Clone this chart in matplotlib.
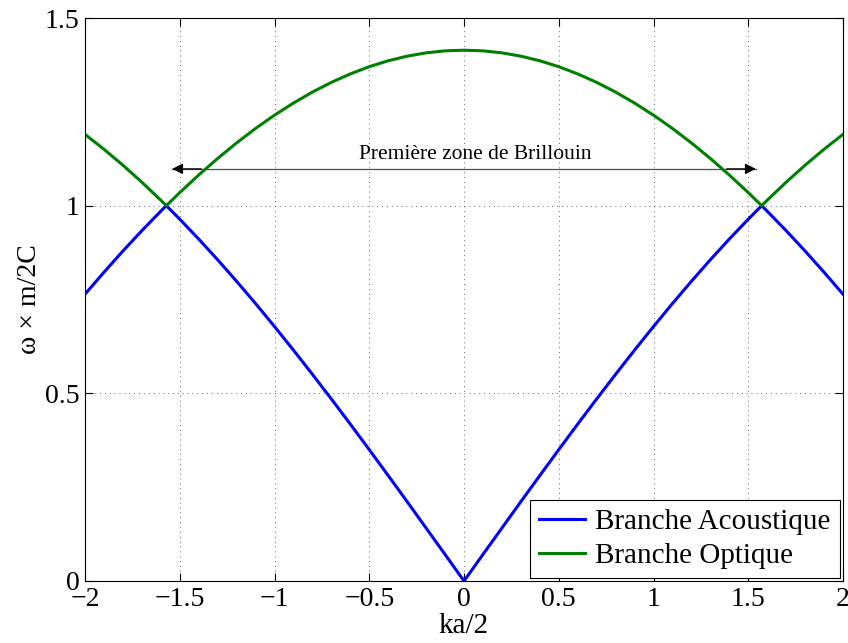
import matplotlib.pyplot as plt

plt.rcParams['font.family'] = ['Liberation Serif', 'DejaVu Serif']

# half-zone dispersion samples for the diatomic chain, ka/2 >= 0
k_half = [0.0, 0.1, 0.2, 0.3, 0.4, 0.5, 0.6, 0.7, 0.8, 0.9, 1.0, 1.1, 1.2,
          1.3, 1.4, 1.5, 1.5708, 1.6, 1.7, 1.8, 1.9, 2.0]
acoustic_half = [0.0, 0.0707, 0.141, 0.2114, 0.2809, 0.3499, 0.418, 0.485,
                 0.5507, 0.6151, 0.678, 0.7392, 0.7985, 0.8559, 0.911, 0.964,
                 1.0, 0.9853, 0.9334, 0.8791, 0.8226, 0.7641]
optical_half = [1.4142, 1.4125, 1.4072, 1.3983, 1.386, 1.3703, 1.351, 1.3285,
                1.3026, 1.2734, 1.2411, 1.2057, 1.1672, 1.1258, 1.0817, 1.0348,
                1.0, 1.0145, 1.0625, 1.1078, 1.1503, 1.19]

k = [-v for v in k_half[:0:-1]] + k_half
acoustic = acoustic_half[:0:-1] + acoustic_half
optical = optical_half[:0:-1] + optical_half

zone_limits = (-1.54, 1.54)
zone_y = 1.098

fig = plt.figure(figsize=(8.48, 6.43), dpi=100)
ax = fig.add_axes([85 / 848, 1 - 581 / 643, 758 / 848, 563 / 643])

ax.plot(k, acoustic, color=(0, 0, 1), lw=2.2, label='Branche Acoustique')
ax.plot(k, optical, color=(0, 0.5, 0), lw=2.2, label='Branche Optique')

# zone arrow: thin grey shaft, black heads
ax.plot(zone_limits, [zone_y, zone_y], color='0.3', lw=0.9)
for end in zone_limits:
    ax.annotate('', xy=(end, zone_y), xytext=(end * 0.9, zone_y),
                arrowprops=dict(arrowstyle='-|>', color='black', lw=0.9,
                                mutation_scale=16, shrinkA=0, shrinkB=0))
ax.text(0.06, zone_y + 0.012, 'Première zone de Brillouin', ha='center',
        va='bottom', fontsize=15.5)

ax.set_xlim(-2, 2)
ax.set_ylim(0, 1.5)
ax.set_xticks([-2, -1.5, -1, -0.5, 0, 0.5, 1, 1.5, 2])
ax.set_xticklabels(['\u22122', '\u22121.5', '\u22121', '\u22120.5', '0',
                    '0.5', '1', '1.5', '2'])
ax.set_yticks([0, 0.5, 1, 1.5])
ax.set_yticklabels(['0', '0.5', '1', '1.5'])
ax.tick_params(direction='in', top=True, right=True, labelsize=20,
               length=6, width=0.8, pad=4)
ax.grid(True, linestyle=(0, (1, 4)), color='black', lw=0.7, alpha=0.6)
for s in ax.spines.values():
    s.set_linewidth(0.8)

ax.set_xlabel('ka/2', fontsize=21, labelpad=1)
ax.set_ylabel('\u03c9 \u00d7 m/2C', fontsize=20, labelpad=2)

leg = ax.legend(loc='lower right', fontsize=21, fancybox=False,
                edgecolor='black', framealpha=1, borderaxespad=0.12,
                handlelength=1.6, handletextpad=0.35, borderpad=0.3,
                labelspacing=0.25)
leg.get_frame().set_linewidth(0.8)

fig.savefig('out.png', dpi=100)
